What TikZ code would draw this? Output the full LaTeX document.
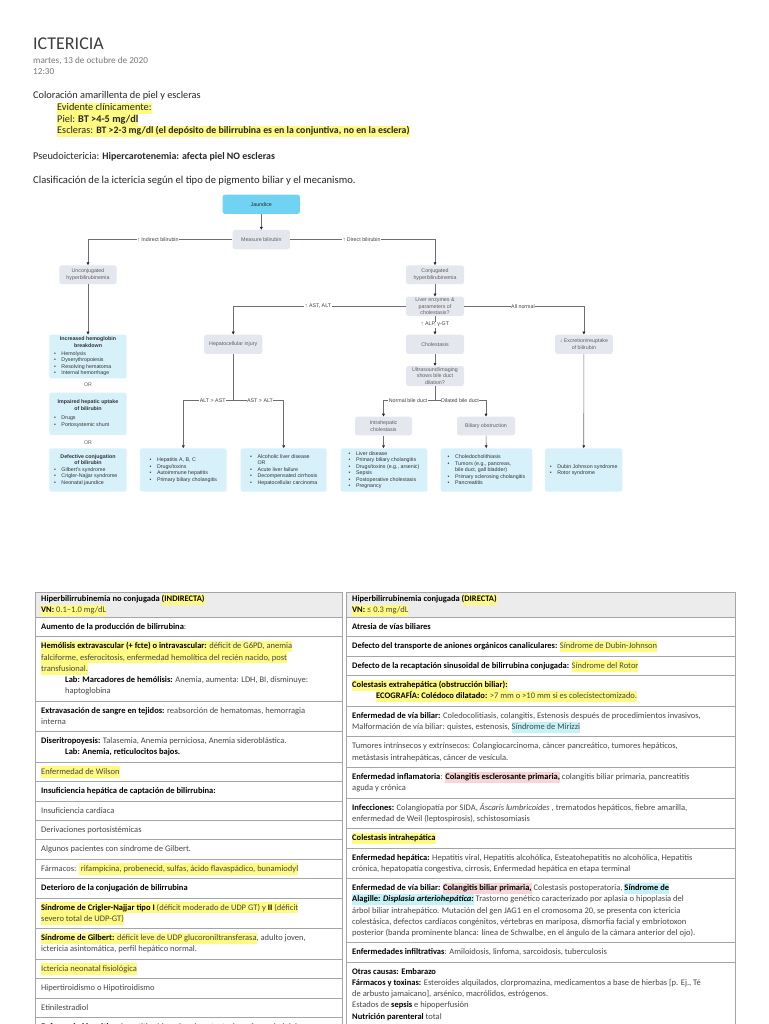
\documentclass[tikz,border=0pt]{standalone}
\usepackage{fontspec}
\setmainfont{Carlito}
\newfontfamily\arialf{Liberation Sans}
\usetikzlibrary{arrows.meta}
\definecolor{hly}{RGB}{255,250,130}
\definecolor{hlp}{RGB}{246,214,214}
\definecolor{hlc}{RGB}{196,242,246}
\definecolor{tcol}{RGB}{70,70,70}
\definecolor{titc}{RGB}{60,60,60}
\definecolor{datec}{RGB}{120,120,120}
\definecolor{jcy}{RGB}{112,211,244}
\definecolor{pgr}{RGB}{228,231,237}
\definecolor{lcy}{RGB}{214,241,250}
\definecolor{lnc}{RGB}{110,110,110}
\definecolor{flt}{RGB}{95,95,95}
\definecolor{bdc}{RGB}{165,165,165}
\definecolor{hdf}{RGB}{236,236,236}
\newcommand\hly[1]{{\setlength{\fboxsep}{0pt}\colorbox{hly}{\strut#1}}}
\newcommand\hlp[1]{{\setlength{\fboxsep}{0pt}\colorbox{hlp}{\strut#1}}}
\newcommand\hlc[1]{{\setlength{\fboxsep}{0pt}\colorbox{hlc}{\strut#1}}}
\newcommand\bb[1]{{\bfseries\color{black}#1}}
\newcommand\fbul[1]{\makebox[7.5pt][l]{•}#1}
\newcommand\tind{\hspace*{24pt}}
\newcommand\flfont{\arialf\fontsize{5.3}{6.5}\selectfont}
\newcommand\tfont{\fontsize{8.5}{11.2}\selectfont}
\newcommand\bfont{\fontsize{10.3}{11.5}\selectfont}
\newcommand\tcell[6]{\draw[tbd] (#2,#4) rectangle (#3,#5); \node[ttx] (#1) at ({#2+6},{#4+4.1}) {#6};}
\newcommand\tcellh[6]{\draw[tbd, fill=hdf] (#2,#4) rectangle (#3,#5); \node[ttx] (#1) at ({#2+6},{#4+1.4}) {#6};}
\tikzset{
  fbox/.style={rectangle, rounded corners=2.5pt, inner sep=1pt, align=center, font=\flfont, text=flt},
  pbox/.style={fbox, fill=pgr},
  lbox/.style={fbox, fill=lcy, text=black!80, align=left},
  ln/.style={draw=lnc, line width=0.6pt},
  arr/.style={ln, -{Triangle[length=2.8pt,width=2.8pt,color=black!85]}},
  lab/.style={fill=white, inner sep=0.6pt, font=\flfont, text=black!75},
  hdr/.style={anchor=base west, inner sep=0pt, font=\bfont, text=black!85},
  tbd/.style={draw=bdc, line width=0.8pt},
  ttx/.style={anchor=north west, inner sep=0pt, align=left, font=\tfont, text=tcol},
}
\begin{document}
\begin{tikzpicture}[x=1pt,y=-1pt]
\useasboundingbox (0,0) rectangle (768,1024);
\fill[white] (0,0) rectangle (768,1024);

% ---------- header ----------
\node[anchor=base west, inner sep=0pt, font=\fontsize{18}{20}\selectfont, text=titc] (title) at (33,49.5) {ICTERICIA};
\node[anchor=base west, inner sep=0pt, font=\fontsize{9.2}{10}\selectfont, text=datec] (date) at (33,63.5) {martes, 13 de octubre de 2020};
\node[anchor=base west, inner sep=0pt, font=\fontsize{9.2}{10}\selectfont, text=datec] (time) at (33,75) {12:30};
\node[hdr] (l1) at (33,99) {Coloración amarillenta de piel y escleras};
\node[hdr] (l2) at (57,111) {\hly{Evidente clínicamente:}};
\node[hdr] (l3) at (57,122.5) {\hly{Piel: \textbf{BT >4-5 mg/dl}}};
\node[hdr] (l4) at (57,134) {\hly{Escleras: {\fontsize{9.8}{11.5}\selectfont\bfseries BT >2-3 mg/dl (el depósito de bilirrubina es en la conjuntiva, no en la esclera)}}};
\node[hdr] (l5) at (33,160) {Pseudoictericia: {\fontsize{9.9}{11.5}\selectfont\bfseries Hipercarotenemia: afecta piel NO escleras}};
\node[hdr, font=\fontsize{10.6}{11.5}\selectfont] (l6) at (33,184) {Clasificación de la ictericia según el tipo de pigmento biliar y el mecanismo.};

% ---------- flowchart ----------
\node[fbox, fill=jcy, text=black!85, minimum width=77.3pt, minimum height=19.3pt] (jaun) at (261.3,204.3) {Jaundice};
\node[pbox, minimum width=57.3pt, minimum height=19.3pt] (meas) at (261.3,239.6) {Measure bilirubin};
\node[pbox, minimum width=57.4pt, minimum height=18.7pt] (unconj) at (88,274.7) {Unconjugated\\hyperbilirubinemia};
\node[pbox, minimum width=58pt, minimum height=18.7pt] (conj) at (435,274.7) {Conjugated\\hyperbilirubinemia};
\node[pbox, minimum width=58pt, minimum height=19.3pt] (liver) at (435,306.3) {Liver enzymes \&\\parameters of\\cholestasis?};
\node[pbox, minimum width=58.3pt, minimum height=19.3pt] (hepinj) at (233.2,344.3) {Hepatocellular injury};
\node[pbox, minimum width=58pt, minimum height=19.3pt] (chol) at (435,344.3) {Cholestasis};
\node[pbox, minimum width=57.7pt, minimum height=19.3pt] (excr) at (583.9,344.3) {↓ Excretion/reuptake\\of bilirubin};
\node[pbox, minimum width=58pt, minimum height=20pt] (ultra) at (435,376) {Ultrasound/imaging\\shows bile duct\\dilation?};
\node[pbox, minimum width=57pt, minimum height=18.6pt] (intra) at (383.5,426) {Intrahepatic\\cholestasis};
\node[pbox, minimum width=58pt, minimum height=18.6pt] (biliary) at (486,426) {Biliary obstruction};

\node[lbox, minimum width=77.4pt, minimum height=43.6pt] (b1) at (88,356.5) {\makebox[68pt]{\bfseries Increased hemoglobin}\\\makebox[68pt]{\bfseries breakdown}\\[1.5pt]\fbul{Hemolysis}\\\fbul{Dyserythropoiesis}\\\fbul{Resolving hematoma}\\\fbul{Internal hemorrhage}};
\node[font=\flfont, text=flt, inner sep=0.5pt] (or1) at (88,385) {OR};
\node[lbox, minimum width=77.4pt, minimum height=42.3pt] (b2) at (88,413.8) {\makebox[68pt]{\bfseries Impaired hepatic uptake}\\\makebox[68pt]{\bfseries of bilirubin}\\[3pt]\fbul{Drugs}\\\fbul{Portosystemic shunt}};
\node[font=\flfont, text=flt, inner sep=0.5pt] (or2) at (88,442.3) {OR};
\node[lbox, minimum width=77.4pt, minimum height=43.4pt] (b3) at (88,470) {\makebox[68pt]{\bfseries Defective conjugation}\\\makebox[68pt]{\bfseries of bilirubin}\\\fbul{Gilbert's syndrome}\\\fbul{Crigler-Najjar syndrome}\\\fbul{Neonatal jaundice}};
\node[lbox, minimum width=86.7pt, minimum height=43.4pt] (b4) at (183.3,470) {\fbul{Hepatitis A, B, C}\\\fbul{Drugs/toxins}\\\fbul{Autoimmune hepatitis}\\\fbul{Primary biliary cholangitis}};
\node[lbox, minimum width=86pt, minimum height=43.4pt] (b5) at (283.7,470) {\fbul{Alcoholic liver disease}\\\hspace*{7.5pt}OR\\\fbul{Acute liver failure}\\\fbul{Decompensated cirrhosis}\\\fbul{Hepatocellular carcinoma}};
\node[lbox, minimum width=86.6pt, minimum height=43.4pt] (b6) at (384,470) {\fbul{Liver disease}\\\fbul{Primary biliary cholangitis}\\\fbul{Drugs/toxins (e.g., arsenic)}\\\fbul{Sepsis}\\\fbul{Postoperative cholestasis}\\\fbul{Pregnancy}};
\node[lbox, minimum width=91.6pt, minimum height=43.4pt] (b7) at (486.5,470) {\fbul{Choledocholithiasis}\\\fbul{Tumors (e.g., pancreas,}\\\hspace*{7.5pt}bile duct, gall bladder)\\\fbul{Primary sclerosing cholangitis}\\\fbul{Pancreatitis}};
\node[lbox, minimum width=77.3pt, minimum height=43.4pt] (b8) at (583.7,470) {\fbul{Dubin Johnson syndrome}\\\fbul{Rotor syndrome}};

\coordinate (us) at (435,400.7);
\coordinate (hs) at (233.2,400.7);
\draw[arr] (jaun) -- (meas);
\draw[arr] (meas.west) -| (unconj.north);
\draw[arr] (meas.east) -| (conj.north);
\draw[arr] (unconj) -- (b1);
\draw[arr] (conj) -- (liver);
\draw[arr] (liver.west) -| (hepinj.north);
\draw[arr] (liver.east) -| (excr.north);
\draw[arr] (liver) -- (chol);
\draw[arr] (chol) -- (ultra);
\draw[arr] (ultra.south) -- (us) -| (intra.north);
\draw[arr] (ultra.south) -- (us) -| (biliary.north);
\draw[arr] (intra.south) -- (intra.south |- b6.north);
\draw[arr] (biliary) -- (b7);
\draw[arr] (excr) -- (b8);
\draw[arr] (hepinj.south) -- (hs) -| (b4.north);
\draw[arr] (hepinj.south) -- (hs) -| (b5.north);
\node[lab] (lind) at (158,239.6) {↑ Indirect bilirubin};
\node[lab] (ldir) at (361.7,239.6) {↑ Direct bilirubin};
\node[lab] (last) at (318,306.3) {↑ AST, ALT};
\node[lab] (lnor) at (523,306.3) {All normal};
\node[lab] (lalp) at (435,324.5) {↑ ALP, γ-GT};
\node[lab] (lnbd) at (408,400.7) {Normal bile duct};
\node[lab] (ldbd) at (460,400.7) {Dilated bile duct};
\node[lab] (lalt) at (212.7,400.7) {ALT > AST};
\node[lab] (lasa) at (260,400.7) {AST > ALT};

% ---------- tables ----------
\begin{scope}
\clip (0,0) rectangle (768,1024);
% left
\tcellh{lh}{35}{342}{592.3}{617.3}{\bb{Hiperbilirrubinemia no conjugada \hly{(INDIRECTA)}}\\\hly{\bb{VN:} 0.1–1.0 mg/dL}}
\tcell{la}{35}{342}{617.3}{636.7}{\strut\bb{Aumento de la producción de bilirrubina}:}
\tcell{lb}{35}{342}{636.7}{700.9}{\hly{\bb{Hemólisis extravascular (+ fcte) o intravascular:} déficit de G6PD, anemia}\\\hly{falciforme, esferocitosis, enfermedad hemolítica del recién nacido, post}\\\hly{transfusional.}\\\strut\tind\bb{Lab: Marcadores de hemólisis:} Anemia, aumenta: LDH, BI, disminuye:\\\strut\tind haptoglobina}
\tcell{lc}{35}{342}{700.9}{731.5}{\strut\bb{Extravasación de sangre en tejidos:} reabsorción de hematomas, hemorragia\\\strut interna}
\tcell{ld}{35}{342}{731.5}{762.1}{\strut\bb{Diseritropoyesis:} Talasemia, Anemia perniciosa, Anemia sideroblástica.\\\strut\tind\bb{Lab: Anemia, reticulocitos bajos.}}
\tcell{le}{35}{342}{762.1}{781.5}{\hly{Enfermedad de Wilson}}
\tcell{lf}{35}{342}{781.5}{800.9}{\strut\bb{Insuficiencia hepática de captación de bilirrubina:}}
\tcell{lg}{35}{342}{800.9}{820.3}{\strut Insuficiencia cardiaca}
\tcell{li}{35}{342}{820.3}{839.7}{\strut Derivaciones portosistémicas}
\tcell{lj}{35}{342}{839.7}{859.1}{\strut Algunos pacientes con síndrome de Gilbert.}
\tcell{lk}{35}{342}{859.1}{878.5}{\strut Fármacos: \hly{ rifampicina, probenecid, sulfas, ácido flavaspádico, bunamiodyl}}
\tcell{ll}{35}{342}{878.5}{897.9}{\strut\bb{Deterioro de la conjugación de bilirrubina}}
\tcell{lm}{35}{342}{897.9}{928.5}{\hly{\bb{Síndrome de Crigler-Najjar tipo I} (déficit moderado de UDP GT) y \bb{II} (déficit}\\\hly{severo total de UDP-GT)}}
\tcell{ln}{35}{342}{928.5}{959.1}{\hly{\bb{Síndrome de Gilbert:} déficit leve de UDP glucoroniltransferasa}, adulto joven,\\\strut ictericia asintomática, perfil hepático normal.}
\tcell{lo}{35}{342}{959.1}{978.5}{\hly{Ictericia neonatal fisiológica}}
\tcell{lp}{35}{342}{978.5}{997.9}{\strut Hipertiroidismo o Hipotiroidismo}
\tcell{lq}{35}{342}{997.9}{1017.3}{\strut Etinilestradiol}
\tcell{lr}{35}{342}{1017.3}{1060}{\strut\bb{Enfermedad hepática:} hepatitis vírica, cirrosis, esteatosis, enfermedad del}
% right
\tcellh{rh}{346}{735}{592.3}{617.3}{\bb{Hiperbilirrubinemia conjugada \hly{(DIRECTA)}}\\\hly{\bb{VN:} ≤ 0.3 mg/dL}}
\tcell{ra}{346}{735}{617.3}{636.7}{\strut\bb{Atresia de vías biliares}}
\tcell{rb}{346}{735}{636.7}{656.1}{\strut\bb{Defecto del transporte de aniones orgánicos canaliculares:} \hly{Síndrome de Dubin-Johnson}}
\tcell{rc}{346}{735}{656.1}{675.5}{\strut\bb{Defecto de la recaptación sinusoidal de bilirrubina conjugada:} \hly{Síndrome del Rotor}}
\tcell{rd}{346}{735}{675.5}{706.1}{\hly{\bb{Colestasis extrahepática (obstrucción biliar):}}\\\strut\tind\hly{\bb{ECOGRAFÍA: Colédoco dilatado:} >7 mm o >10 mm si es colecistectomizado.}}
\tcell{re}{346}{735}{706.1}{736.7}{\strut\bb{Enfermedad de vía biliar:} Coledocolitiasis, colangitis, Estenosis después de procedimientos invasivos,\\\strut Malformación de vía biliar: quistes, estenosis, \hlc{Síndrome de Mirizzi}}
\tcell{rf}{346}{735}{736.7}{767.3}{\strut Tumores intrínsecos y extrínsecos: Colangiocarcinoma, cáncer pancreático, tumores hepáticos,\\\strut metástasis intrahepáticas, cáncer de vesícula.}
\tcell{rg}{346}{735}{767.3}{797.9}{\strut\bb{Enfermedad inflamatoria}: \hlp{\bb{Colangitis esclerosante primaria,}} colangitis biliar primaria, pancreatitis\\\strut aguda y crónica}
\tcell{ri}{346}{735}{797.9}{828.5}{\strut\bb{Infecciones:} Colangiopatía por SIDA, \textit{Áscaris lumbricoides} , trematodos hepáticos, fiebre amarilla,\\\strut enfermedad de Weil (leptospirosis), schistosomiasis}
\tcell{rj}{346}{735}{828.5}{847.9}{\hly{\bb{Colestasis intrahepática}}}
\tcell{rk}{346}{735}{847.9}{878.5}{\strut\bb{Enfermedad hepática:} Hepatitis viral, Hepatitis alcohólica, Esteatohepatitis no alcohólica, Hepatitis\\\strut crónica, hepatopatía congestiva, cirrosis, Enfermedad hepática en etapa terminal}
\tcell{rl}{346}{735}{878.5}{942.7}{\strut\bb{Enfermedad de vía biliar: \hlp{Colangitis biliar primaria,}} Colestasis postoperatoria, \hlc{\bb{Síndrome de}}\\\hlc{\bb{Alagille: \textit{Displasia arteriohepática:}}} Trastorno genético caracterizado por aplasia o hipoplasia del\\\strut árbol biliar intrahepático. Mutación del gen JAG1 en el cromosoma 20, se presenta con ictericia\\\strut colestásica, defectos cardíacos congénitos, vértebras en mariposa, dismorfia facial y embriotoxon\\\strut posterior (banda prominente blanca: línea de Schwalbe, en el ángulo de la cámara anterior del ojo).}
\tcell{rm}{346}{735}{942.7}{962.1}{\strut\bb{Enfermedades infiltrativas}: Amiloidosis, linfoma, sarcoidosis, tuberculosis}
\tcell{rn}{346}{735}{962.1}{1060}{\strut\bb{Otras causas: Embarazo}\\\strut\bb{Fármacos y toxinas:} Esteroides alquilados, clorpromazina, medicamentos a base de hierbas [p. Ej., Té\\\strut de arbusto jamaicano], arsénico, macrólidos, estrógenos.\\\strut Estados de \bb{sepsis} e hipoperfusión\\\strut\bb{Nutrición parenteral} total\\\strut Desorden del transporte de ácidos biliares}
\end{scope}
\end{tikzpicture}
\end{document}
